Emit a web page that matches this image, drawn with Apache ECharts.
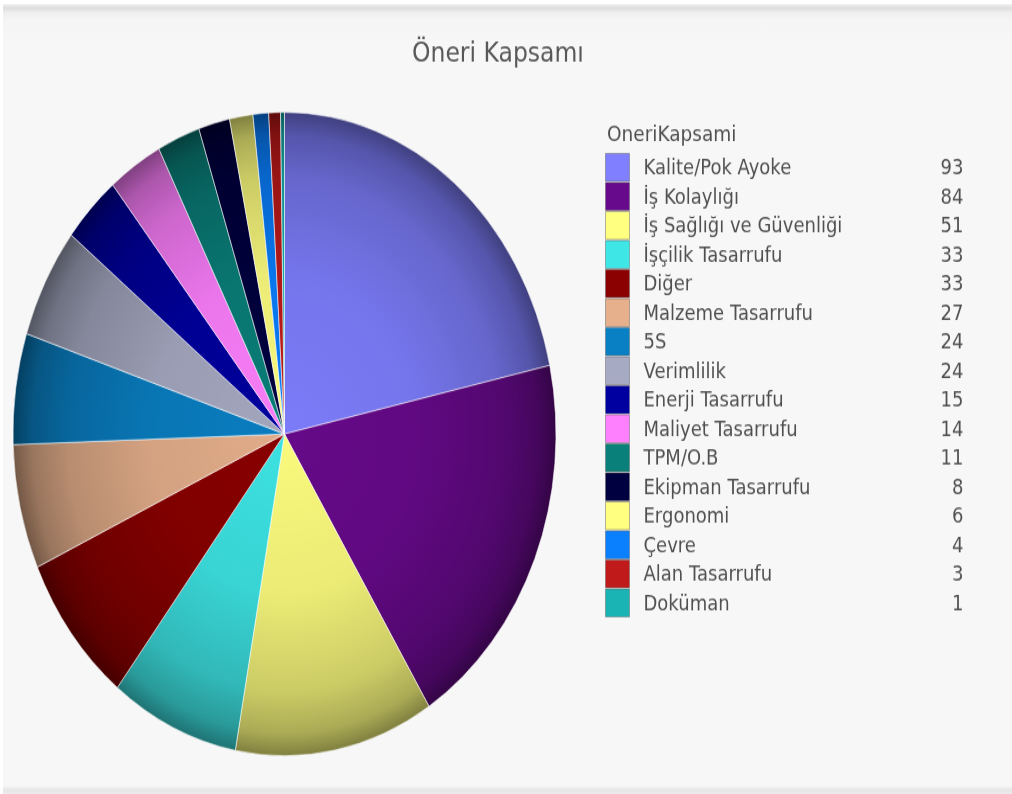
<!DOCTYPE html>
<html>
<head>
<meta charset="utf-8">
<title>Öneri Kapsamı</title>
<script src="https://cdn.jsdelivr.net/npm/echarts@6/dist/echarts.min.js"></script>
<style>
  html, body { margin: 0; padding: 0; background: #ffffff; }
  #frame { position: absolute; left: 0; top: 0; width: 1012px; height: 794px; background: #ffffff; overflow: hidden; }
  #panel { position: absolute; left: 3px; top: 4px; width: 1009px; height: 786px;
           background: linear-gradient(#f2f2f2 0px, #dedede 4px, #efefef 9px, #f5f5f5 16px, #f7f7f7 40px); }
  #foot { position: absolute; left: 3px; top: 785px; width: 1009px; height: 9px;
          background: linear-gradient(#f9f9f9 0px, #e6e6e6 5px, #ececec 9px); }
  /* the drawing is laid out in a 670px tall box and stretched to the full frame height */
  #chart { position: absolute; left: 0; top: 0; width: 1012px; height: 670px;
           transform: scaleY(1.18507); transform-origin: 0 0; }
</style>
</head>
<body>
<div id="frame">
  <div id="panel"></div>
  <div id="foot"></div>
  <div id="chart"></div>
</div>
<script>
// Suggestion scope counts
const chartTitle = 'Öneri Kapsamı';
const legendTitle = 'OneriKapsami';
const categories = [
  'Kalite/Pok Ayoke', 'İş Kolaylığı', 'İş Sağlığı ve Güvenliği', 'İşçilik Tasarrufu',
  'Diğer', 'Malzeme Tasarrufu', '5S', 'Verimlilik', 'Enerji Tasarrufu',
  'Maliyet Tasarrufu', 'TPM/O.B', 'Ekipman Tasarrufu', 'Ergonomi', 'Çevre',
  'Alan Tasarrufu', 'Doküman'
];
const values = [93, 84, 51, 33, 33, 27, 24, 24, 15, 14, 11, 8, 6, 4, 3, 1];
const colors = [
  '#7f7fff', '#680a8c', '#ffff80', '#3ee6e6', '#8b0000', '#e6b08c', '#0a80c4', '#a6aac2',
  '#0000a0', '#ff80ff', '#0a807a', '#000040', '#ffff80', '#0a80ff', '#c01a1a', '#1ab4b4'
];

// geometry of the pie inside the (unstretched) chart box
const STRETCH = 794 / 670;
const CX = 284.5;
const CY = 434 / STRETCH;
const R = 271.5;

function shade(hex, k) {
  const n = parseInt(hex.slice(1), 16);
  const r = Math.min(255, Math.round(((n >> 16) & 255) * k));
  const g = Math.min(255, Math.round(((n >> 8) & 255) * k));
  const b = Math.min(255, Math.round((n & 255) * k));
  return 'rgb(' + r + ',' + g + ',' + b + ')';
}

// radial shading: lit in the middle, falling off toward the rim
function sliceFill(hex) {
  return new echarts.graphic.RadialGradient(CX, CY, R, [
    { offset: 0, color: shade(hex, 0.98) },
    { offset: 0.5, color: shade(hex, 0.92) },
    { offset: 0.8, color: shade(hex, 0.8) },
    { offset: 0.93, color: shade(hex, 0.67) },
    { offset: 1, color: shade(hex, 0.5) }
  ], true);
}

const valueByName = {};
categories.forEach((c, i) => { valueByName[c] = values[i]; });

const pieData = categories.map((name, i) => ({
  name: name,
  value: values[i],
  itemStyle: { color: sliceFill(colors[i]) }
}));

const legendData = categories.map((name, i) => ({
  name: name,
  itemStyle: { color: colors[i], borderColor: 'rgba(90,90,90,0.45)', borderWidth: 1 }
}));

const textFont = { fontFamily: 'DejaVu Sans', fontSize: 18, lineHeight: 18, padding: [3, 0, 0, 0] };

const chart = echarts.init(document.getElementById('chart'), null, { renderer: 'canvas' });

chart.setOption({
  animation: false,
  backgroundColor: 'transparent',
  title: [
    {
      text: chartTitle,
      left: 412,
      top: 34,
      padding: 0,
      textStyle: { fontFamily: 'DejaVu Sans', fontSize: 23.5, fontWeight: 'normal', color: '#585858' }
    },
    {
      text: legendTitle,
      left: 607,
      top: 105,
      padding: 0,
      textStyle: { fontFamily: 'DejaVu Sans', fontSize: 18.5, fontWeight: 'normal', color: '#505050' }
    }
  ],
  legend: {
    orient: 'vertical',
    left: 605,
    top: 129,
    padding: 0,
    itemWidth: 24,
    itemHeight: 23.5,
    itemGap: 0,
    icon: 'rect',
    selectedMode: false,
    data: legendData,
    formatter: name => '{s|}{n|' + name + '}{v|' + valueByName[name] + '}',
    textStyle: {
      fontFamily: 'DejaVu Sans',
      fontSize: 18,
      lineHeight: 18,
      color: '#505050',
      rich: {
        s: Object.assign({ width: 9 }, textFont),
        n: Object.assign({ width: 280, color: '#505050' }, textFont),
        v: Object.assign({ width: 40, align: 'right', color: '#505050' }, textFont)
      }
    }
  },
  series: [{
    type: 'pie',
    center: [CX, CY],
    radius: [0, R],
    startAngle: 90,
    clockwise: true,
    silent: true,
    label: { show: false },
    labelLine: { show: false },
    emphasis: { disabled: true },
    itemStyle: { borderColor: 'rgba(255,255,255,0.55)', borderWidth: 1 },
    data: pieData
  }]
});
</script>
</body>
</html>
